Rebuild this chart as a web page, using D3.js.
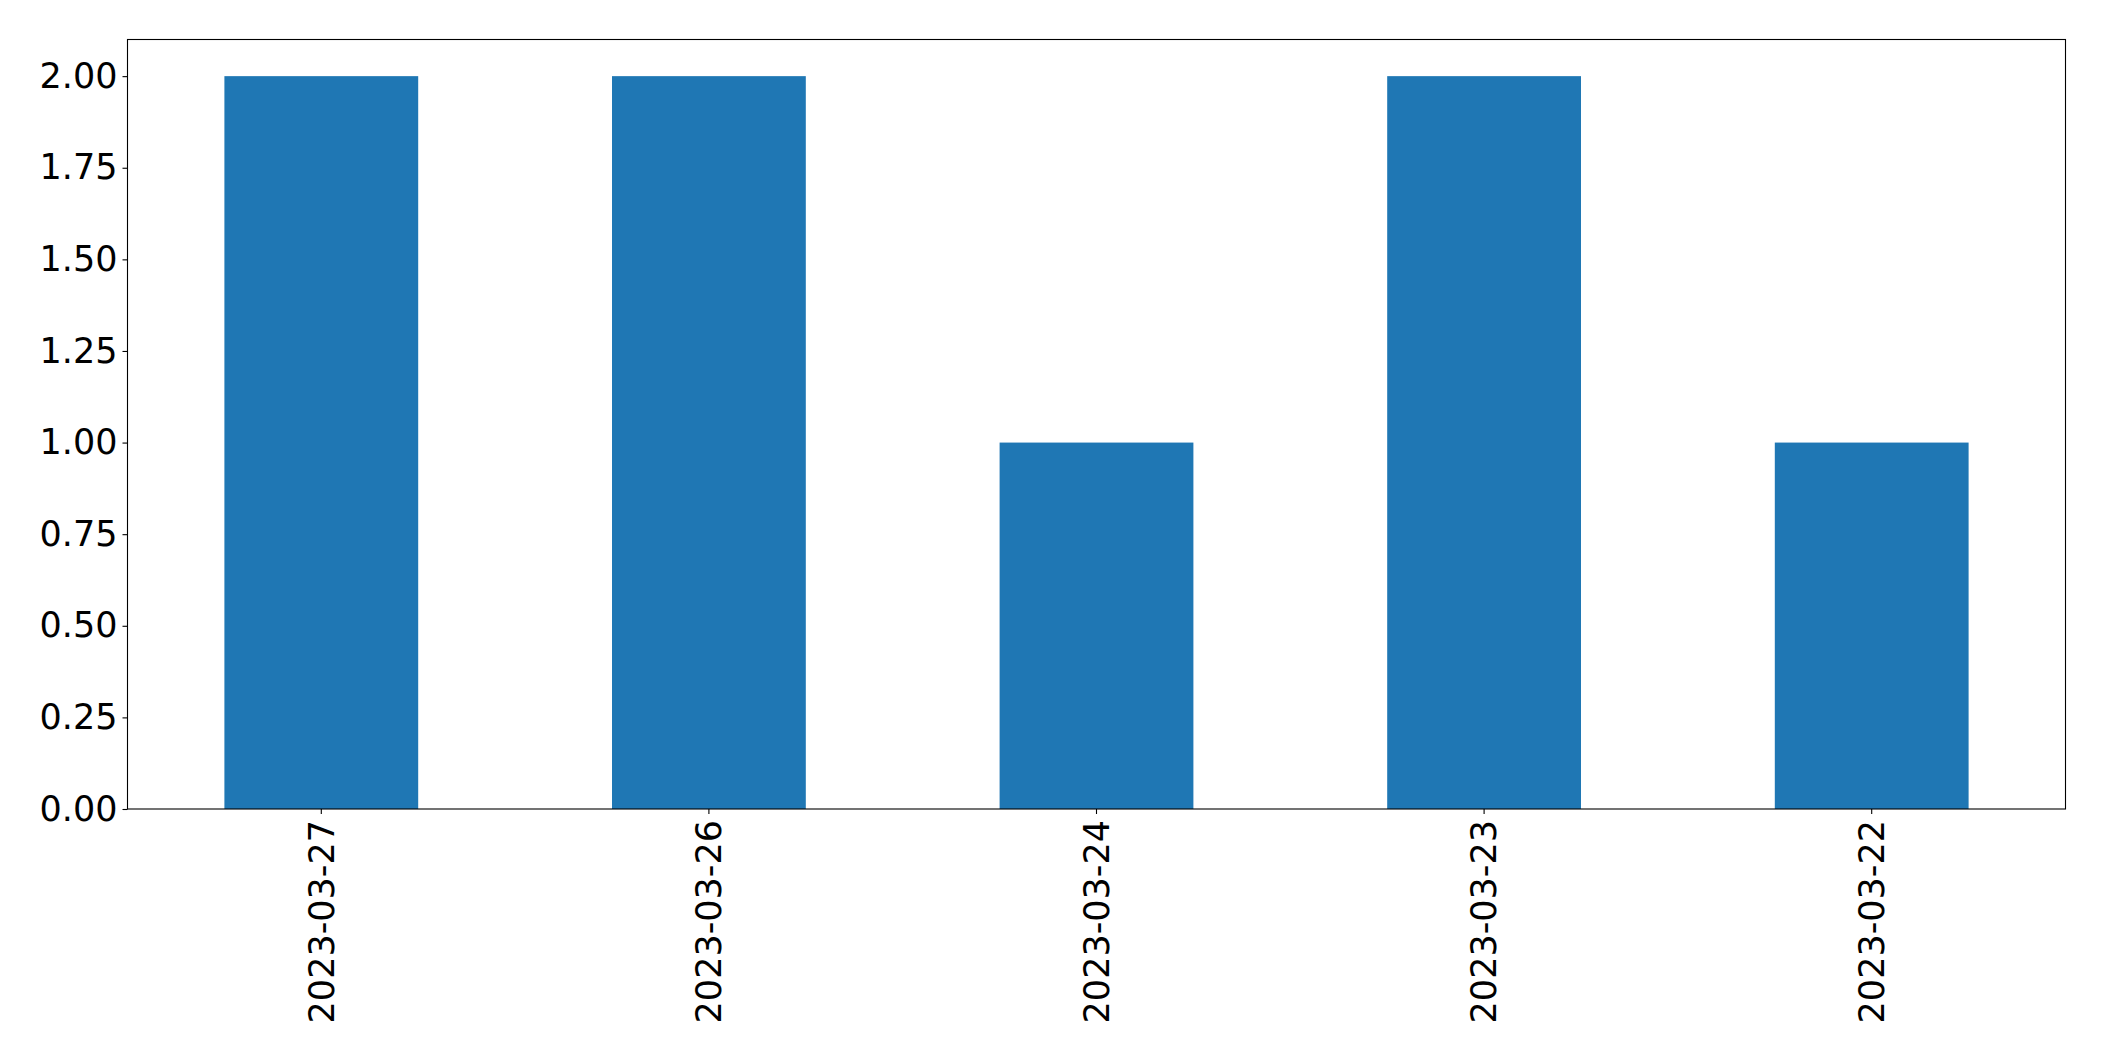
<!DOCTYPE html>
<html><head><meta charset="utf-8">
<script src="https://cdn.jsdelivr.net/npm/d3@7"></script>
<style>body{margin:0;background:#fff}svg{display:block}text{font-family:"DejaVu Sans",sans-serif}</style>
</head><body>
<script>
const categories = ["2023-03-27","2023-03-26","2023-03-24","2023-03-23","2023-03-22"];
const values = [2, 2, 1, 2, 1];
const yTicks = [0, 0.25, 0.5, 0.75, 1.0, 1.25, 1.5, 1.75, 2.0];

const W = 2104, H = 1061;
const m = {left: 127.5, right: 2065.5, top: 39.5, bottom: 809};
const fs = 35;
const svg = d3.select("body").append("svg").attr("width", W).attr("height", H);

const x = d3.scaleBand().domain(categories).range([m.left, m.right]).paddingInner(0.5).paddingOuter(0.25);
const y = d3.scaleLinear().domain([0, 2.1]).range([m.bottom, m.top]);

svg.append("g").selectAll("rect").data(values).join("rect")
  .attr("x", (d,i) => x(categories[i]))
  .attr("width", x.bandwidth())
  .attr("y", d => y(d))
  .attr("height", d => y(0) - y(d))
  .attr("fill", "#1f77b4");

const ya = svg.append("g").attr("transform", `translate(${m.left},0)`)
  .call(d3.axisLeft(y).tickValues(yTicks).tickFormat(d3.format(".2f")).tickSize(5).tickPadding(5));
ya.select(".domain").remove();
ya.selectAll("text").attr("font-size", fs).attr("font-family", "DejaVu Sans").attr("fill", "#000");
ya.selectAll("line").attr("stroke", "#000").attr("stroke-width", 1.1);

const xa = svg.append("g").attr("transform", `translate(0,${m.bottom})`)
  .call(d3.axisBottom(x).tickSize(5).tickPadding(0));
xa.select(".domain").remove();
xa.selectAll("line").attr("stroke", "#000").attr("stroke-width", 1.1);
xa.selectAll("text").attr("font-size", fs).attr("font-family", "DejaVu Sans").attr("fill", "#000")
  .attr("text-anchor", "end")
  .attr("transform", "rotate(-90)")
  .attr("x", -11).attr("y", 0).attr("dy", "0.35em");

svg.append("rect").attr("x", m.left).attr("y", m.top)
  .attr("width", m.right - m.left).attr("height", m.bottom - m.top)
  .attr("fill", "none").attr("stroke", "#000").attr("stroke-width", 1.1);
</script>
</body></html>
